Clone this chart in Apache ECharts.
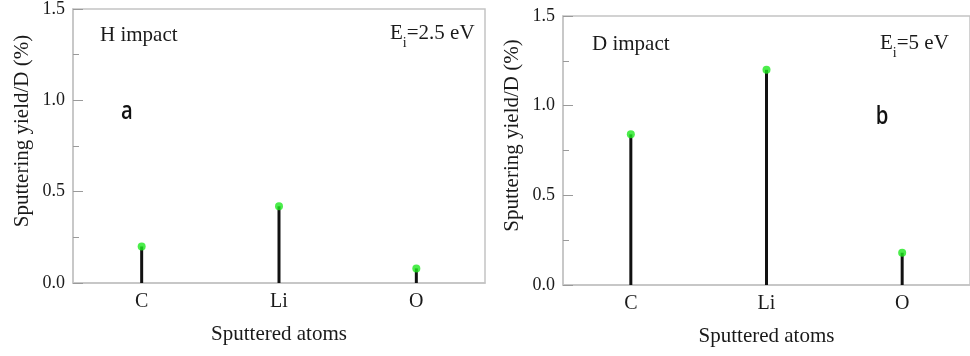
<!DOCTYPE html>
<html>
<head>
<meta charset="utf-8">
<script src="https://cdn.jsdelivr.net/npm/echarts@6/dist/echarts.min.js"></script>
<style>
  html, body { margin: 0; padding: 0; background: #fff; }
  #chart { width: 970px; height: 356px; }
</style>
</head>
<body>
<div id="chart"></div>
<script>
// Sputtered species and sputtering yield per incident ion (%)
const atoms = ['C', 'Li', 'O'];
const yieldH = [0.20, 0.42, 0.08];   // H impact, Ei = 2.5 eV
const yieldD = [0.84, 1.20, 0.18];   // D impact, Ei = 5 eV
const yTicks = [0, 0.5, 1.0, 1.5];

const SERIF = '"Liberation Serif", "Times New Roman", serif';
const TEXT = '#1a1a1a';
const FRAME = '#c4c4c4';

const chart = echarts.init(document.getElementById('chart'), null, { renderer: 'canvas' });

function xAxisFor(gridIndex) {
  return {
    type: 'category',
    gridIndex: gridIndex,
    data: atoms,
    boundaryGap: true,
    axisLine: { lineStyle: { color: FRAME, width: 1.5 } },
    axisTick: { show: false },
    axisLabel: { color: TEXT, fontFamily: SERIF, fontSize: 20, margin: 9 },
    name: 'Sputtered atoms',
    nameLocation: 'middle',
    nameGap: 41,
    nameTextStyle: { color: TEXT, fontFamily: SERIF, fontSize: 21 }
  };
}

function yAxisFor(gridIndex) {
  return {
    type: 'value',
    gridIndex: gridIndex,
    min: yTicks[0],
    max: yTicks[yTicks.length - 1],
    interval: yTicks[1] - yTicks[0],
    splitLine: { show: false },
    axisLine: { show: true, lineStyle: { color: FRAME, width: 1.5 } },
    axisTick: { show: true, inside: true, length: 10, lineStyle: { color: '#9a9a9a', width: 1 } },
    minorTick: { show: true, splitNumber: 2, length: 6, lineStyle: { color: '#9a9a9a', width: 1 } },
    axisLabel: {
      color: TEXT, fontFamily: SERIF, fontSize: 18, margin: 8,
      formatter: v => v.toFixed(1)
    },
    name: 'Sputtering yield/D (%)',
    nameLocation: 'middle',
    nameGap: 40,
    nameTextStyle: { color: TEXT, fontFamily: SERIF, fontSize: 21, padding: [0, 0, 0, 30] }
  };
}

function stems(idx, values) {
  return [
    {
      type: 'bar',
      xAxisIndex: idx, yAxisIndex: idx,
      data: values,
      barWidth: 3,
      itemStyle: { color: '#111' },
      silent: true,
      z: 2
    },
    {
      type: 'scatter',
      xAxisIndex: idx, yAxisIndex: idx,
      data: values,
      symbol: 'circle',
      symbolSize: 8,
      itemStyle: { color: '#1ee81e' },
      silent: true,
      z: 3
    }
  ];
}

function label(text, x, y) {
  return {
    type: 'text',
    x: x, y: y,
    style: {
      text: text,
      fill: TEXT,
      font: '21px ' + SERIF,
      verticalAlign: 'middle'
    }
  };
}

function energy(value, x, y) {
  return {
    type: 'text',
    x: x, y: y,
    style: {
      text: '{m|E}{s|i}{m|=' + value + ' eV}',
      verticalAlign: 'middle',
      rich: {
        m: { fontFamily: SERIF, fontSize: 21, lineHeight: 22, fill: TEXT, color: TEXT },
        s: { fontFamily: SERIF, fontSize: 14, lineHeight: 14, fill: TEXT, color: TEXT, verticalAlign: 'bottom', padding: [0, 0, -6, 0] }
      }
    }
  };
}

function panelTag(text, x, y) {
  return {
    type: 'text',
    x: x, y: y,
    scaleX: 0.78,
    style: {
      text: text,
      fill: '#111',
      font: '600 26px "Open Sans", "Liberation Sans", sans-serif',
      align: 'center',
      verticalAlign: 'middle'
    }
  };
}

chart.setOption({
  animation: false,
  backgroundColor: '#fff',
  grid: [
    { left: 73, top: 7, width: 412, height: 276, show: true, borderColor: FRAME, borderWidth: 1.5, backgroundColor: 'transparent' },
    { left: 563, top: 16, width: 414, height: 269, show: true, borderColor: FRAME, borderWidth: 1.5, backgroundColor: 'transparent' }
  ],
  xAxis: [xAxisFor(0), xAxisFor(1)],
  yAxis: [yAxisFor(0), yAxisFor(1)],
  series: [...stems(0, yieldH), ...stems(1, yieldD)],
  graphic: [
    label('H impact', 100, 35),
    energy('2.5', 390, 33),
    panelTag('a', 127, 112),
    label('D impact', 592, 44),
    energy('5', 880, 43),
    panelTag('b', 882, 117)
  ]
});
</script>
</body>
</html>
